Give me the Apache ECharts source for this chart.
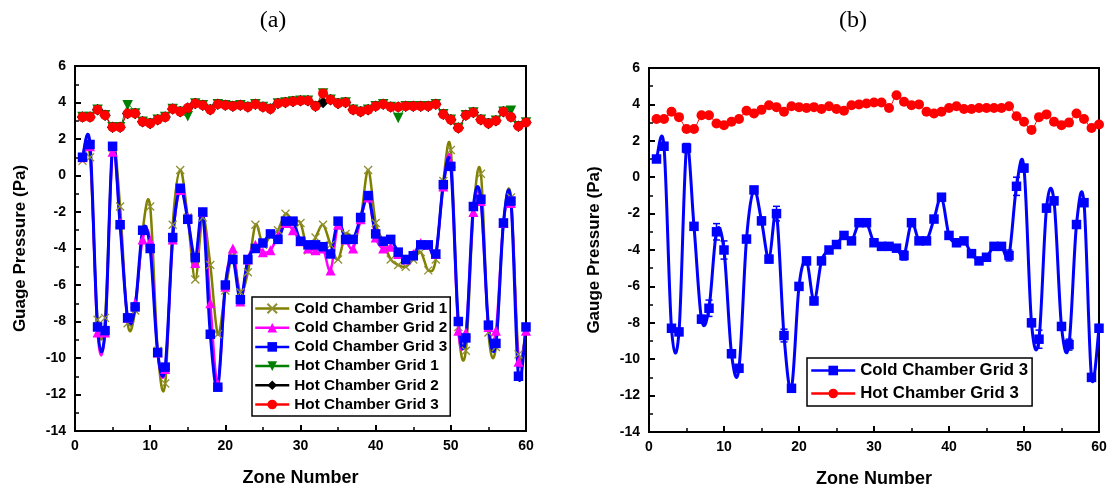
<!DOCTYPE html>
<html><head><meta charset="utf-8">
<script src="https://cdn.jsdelivr.net/npm/echarts@6/dist/echarts.min.js"></script>
<style>html,body{margin:0;padding:0;background:#fff}#c{width:1115px;height:496px}</style>
</head><body><div id="c"></div>
<script>
const zones = [1,2,3,4,5,6,7,8,9,10,11,12,13,14,15,16,17,18,19,20,21,22,23,24,25,26,27,28,29,30,
  31,32,33,34,35,36,37,38,39,40,41,42,43,44,45,46,47,48,49,50,51,52,53,54,55,56,57,58,59,60];
const coldGrid1 = [0.8,1.0,-7.9,-7.8,1.5,-1.7,-8.1,-7.4,-3.0,-1.7, -9.6,-11.4,-2.7,0.3,-2.3,-5.7,-2.3,-4.9,-8.7,-6.3,
  -4.4,-6.4,-5.3,-2.7,-3.8,-3.3,-3.0,-2.1,-2.5,-2.6, -4.1,-3.4,-2.7,-3.8,-4.6,-3.2,-3.4,-2.4,0.3,-2.6,
  -3.6,-4.6,-4.9,-5.0,-4.6,-4.2,-5.2,-4.6,-0.3,1.4, -8.3,-9.6,-2.0,0.1,-8.6,-9.4,-2.6,-1.2,-9.8,-8.5];
const coldGrid2 = [1.0,1.6,-8.6,-8.6,1.3,-2.6,-7.8,-7.0,-3.5,-3.6, -9.7,-10.6,-3.5,-0.8,-2.3,-4.8,-2.0,-7.0,-11.4,-6.1,
  -4.0,-6.9,-4.6,-3.8,-4.2,-4.1,-3.3,-2.6,-3.0,-3.6, -4.0,-4.1,-4.0,-5.2,-2.7,-3.5,-4.0,-2.4,-1.2,-3.4,
  -4.0,-3.9,-4.3,-4.6,-4.3,-3.7,-3.8,-4.3,-0.6,0.7, -8.5,-8.6,-2.0,-1.4,-8.3,-8.5,-2.6,-1.5,-10.2,-8.5];
const coldGrid3 = [1.0,1.7,-8.3,-8.5,1.6,-2.7,-7.8,-7.2,-3.0,-4.0, -9.7,-10.5,-3.4,-0.7,-2.4,-4.5,-2.0,-8.7,-11.6,-6.0,
  -4.6,-6.8,-4.6,-4.0,-3.7,-3.2,-3.5,-2.5,-2.5,-3.6, -3.8,-3.8,-3.9,-4.3,-2.5,-3.5,-3.5,-2.3,-1.1,-3.2,
  -3.6,-3.5,-4.2,-4.6,-4.4,-3.8,-3.8,-4.3,-0.5,0.5, -8.0,-8.9,-1.7,-1.3,-8.2,-9.2,-2.6,-1.4,-11.0,-8.3];
const coldGrid3Err = [0.15,0.2,0.15,0.15,0.25,0.15,0.2,0.45,0.45,0.5, 0.2,0.2,0.15,0.15,0.2,0.2,0.4,0.35,0.15,0.2,
  0.2,0.2,0.15,0.15,0.15,0.15,0.15,0.15,0.15,0.15, 0.15,0.15,0.15,0.25,0.15,0.15,0.15,0.15,0.15,0.2,
  0.2,0.15,0.15,0.15,0.15,0.15,0.15,0.3,0.5,0.2, 0.2,0.5,0.2,0.2,0.15,0.3,0.2,0.2,0.2,0.2];
const hotGrid1 = [3.2,3.2,3.6,3.3,2.65,2.65,3.85,3.4,2.95,2.85, 3.05,3.2,3.65,3.5,3.25,3.95,3.85,3.6,3.9,3.85,
  3.8,3.85,3.75,3.9,3.75,3.65,3.95,4.0,4.05,4.1, 4.1,3.8,4.5,4.15,3.95,4.0,3.6,3.5,3.6,3.8,
  3.9,3.75,3.15,3.8,3.8,3.8,3.8,3.9,3.35,3.05, 2.6,3.3,3.45,3.05,2.85,3.0,3.5,3.55,2.7,2.9];
const hotGrid2 = [3.2,3.2,3.6,3.3,2.65,2.65,3.4,3.4,2.95,2.85, 3.05,3.2,3.65,3.5,3.7,3.95,3.85,3.6,3.9,3.85,
  3.8,3.85,3.75,3.9,3.75,3.65,3.95,4.0,4.05,4.1, 4.1,3.8,4.0,4.15,3.95,4.0,3.6,3.5,3.6,3.8,
  3.9,3.75,3.75,3.8,3.8,3.8,3.8,3.9,3.35,3.05, 2.6,3.3,3.45,3.05,2.85,3.0,3.5,3.2,2.7,2.9];
const hotGrid3 = [3.2,3.2,3.6,3.3,2.65,2.65,3.4,3.4,2.95,2.85, 3.05,3.2,3.65,3.5,3.7,3.95,3.85,3.6,3.9,3.85,
  3.8,3.85,3.75,3.9,3.75,3.65,3.95,4.0,4.05,4.1, 4.1,3.8,4.5,4.15,3.95,4.0,3.6,3.5,3.6,3.8,
  3.9,3.75,3.75,3.8,3.8,3.8,3.8,3.9,3.35,3.05, 2.6,3.3,3.45,3.05,2.85,3.0,3.5,3.2,2.7,2.9];
const seriesNames = ['Cold Chamber Grid 1','Cold Chamber Grid 2','Cold Chamber Grid 3',
  'Hot Chamber Grid 1','Hot Chamber Grid 2','Hot Chamber Grid 3'];
const panelTitles = ['(a)','(b)'];
const yNames = ['Guage Pressure (Pa)','Gauge Pressure (Pa)'];
const xName = 'Zone Number';

const FONT = 'Liberation Sans, Arial, sans-serif';
const pair = arr => zones.map((z,i)=>[z, arr[i]]);

function xAxis(gi){
  return {gridIndex:gi, type:'value', min:0, max:60, interval:10, name:xName, nameLocation:'middle', nameGap:38,
    nameTextStyle:{fontFamily:FONT, fontWeight:'bold', fontSize:18, color:'#000'},
    axisLine:{onZero:false, lineStyle:{color:'#000', width:2}},
    axisTick:{inside:true, length:6, lineStyle:{color:'#000', width:2}},
    minorTick:{show:true, splitNumber:2, length:4, lineStyle:{color:'#000', width:1.5}},
    axisLabel:{fontFamily:FONT, fontWeight:'bold', fontSize:14, color:'#000', margin:8},
    splitLine:{show:false}};
}
function yAxis(gi){
  return {gridIndex:gi, type:'value', min:-14, max:6, interval:2, name:yNames[gi], nameLocation:'middle', nameGap:46,
    nameTextStyle:{fontFamily:FONT, fontWeight:'bold', fontSize:17, color:'#000'},
    axisLine:{onZero:false, lineStyle:{color:'#000', width:2}},
    axisTick:{inside:true, length:6, lineStyle:{color:'#000', width:2}},
    minorTick:{show:true, splitNumber:2, length:4, lineStyle:{color:'#000', width:1.5}},
    axisLabel:{fontFamily:FONT, fontWeight:'bold', fontSize:14, color:'#000', margin:9},
    splitLine:{show:false}};
}
const SYM = {
  cross:'path://M0,0L10,10M10,0L0,10',
  tri:'path://M5,0L10,9L0,9Z',
  triDown:'path://M0,0L10,0L5,9Z'
};
const COLORS = ['#808000','#ff00ff','#0000ff','#008000','#000000','#ff0000'];
const WIDTHS = [2.5,2.5,3,1,1,1];

// smooth curve through the points (Catmull-Rom), drawn with the axes' own coordinate mapping
function curve(arr, gi, color, lw){
  return {type:'custom', xAxisIndex:gi, yAxisIndex:gi, silent:true, animation:false, clip:true,
    data:pair(arr), encode:{x:0, y:1},
    renderItem(params, api){
      const i = params.dataIndex, n = zones.length;
      if (i >= n-1) return null;
      const P = k => { const kk = Math.max(0, Math.min(n-1, k)); return api.coord([zones[kk], arr[kk]]); };
      const p0 = P(i-1), p1 = P(i), p2 = P(i+1), p3 = P(i+2), t = 1/6;
      return {type:'bezierCurve', shape:{x1:p1[0], y1:p1[1], x2:p2[0], y2:p2[1],
        cpx1:p1[0]+(p2[0]-p0[0])*t, cpy1:p1[1]+(p2[1]-p0[1])*t,
        cpx2:p2[0]-(p3[0]-p1[0])*t, cpy2:p2[1]-(p3[1]-p1[1])*t},
        style:{stroke:color, lineWidth:lw, fill:null}};
    }};
}
function marks(k, arr, gi, symbol, size, itemExtra){
  const color = COLORS[k];
  return {name:seriesNames[k], type:'line', xAxisIndex:gi, yAxisIndex:gi, data:pair(arr),
    symbol, symbolSize:size, showAllSymbol:true,
    lineStyle:{color, width:WIDTHS[k], opacity:0},
    itemStyle:Object.assign({color, borderColor:color, borderWidth:0}, itemExtra||{}),
    emphasis:{disabled:true}, animation:false};
}
function errorBars(arr, err, gi, color){
  return {type:'custom', xAxisIndex:gi, yAxisIndex:gi, silent:true, animation:false,
    data: zones.map((z,i)=>[z, arr[i]-err[i], arr[i]+err[i]]),
    encode:{x:0, y:[1,2]},
    renderItem(params, api){
      const x = api.value(0);
      const lo = api.coord([x, api.value(1)]), hi = api.coord([x, api.value(2)]);
      const w = 3.5, st = {stroke:color, lineWidth:1.5};
      return {type:'group', children:[
        {type:'line', shape:{x1:lo[0], y1:lo[1], x2:hi[0], y2:hi[1]}, style:st},
        {type:'line', shape:{x1:lo[0]-w, y1:lo[1], x2:lo[0]+w, y2:lo[1]}, style:st},
        {type:'line', shape:{x1:hi[0]-w, y1:hi[1], x2:hi[0]+w, y2:hi[1]}, style:st}
      ]};
    }};
}
const crossStyle = {borderColor:'#8f8f30', borderWidth:1.3};
const series = [
  curve(coldGrid1, 0, COLORS[0], WIDTHS[0]), marks(0, coldGrid1, 0, SYM.cross, 8, crossStyle),
  curve(coldGrid2, 0, COLORS[1], WIDTHS[1]), marks(1, coldGrid2, 0, SYM.tri, 10),
  curve(coldGrid3, 0, COLORS[2], WIDTHS[2]), marks(2, coldGrid3, 0, 'rect', 9.5),
  curve(hotGrid1, 0, COLORS[3], WIDTHS[3]), marks(3, hotGrid1, 0, SYM.triDown, 10.5),
  curve(hotGrid2, 0, COLORS[4], WIDTHS[4]), marks(4, hotGrid2, 0, 'diamond', 11.5),
  curve(hotGrid3, 0, COLORS[5], WIDTHS[5]), marks(5, hotGrid3, 0, 'circle', 10),
  curve(coldGrid3, 1, COLORS[2], WIDTHS[2]), errorBars(coldGrid3, coldGrid3Err, 1, COLORS[2]),
  marks(2, coldGrid3, 1, 'rect', 9.5),
  curve(hotGrid3, 1, COLORS[5], WIDTHS[5]), marks(5, hotGrid3, 1, 'circle', 10)
];
const legendItem = k => ({name:seriesNames[k], lineStyle:{color:COLORS[k], width:2.5, opacity:1}});

const chart = echarts.init(document.getElementById('c'), null, {renderer:'canvas'});
chart.setOption({
  backgroundColor:'#fff',
  animation:false,
  title:[
    {text:panelTitles[0], left:268, top:4, textAlign:'center', textStyle:{fontFamily:'Liberation Serif, Times New Roman, serif', fontWeight:'normal', fontSize:24, color:'#000'}},
    {text:panelTitles[1], left:848, top:4, textAlign:'center', textStyle:{fontFamily:'Liberation Serif, Times New Roman, serif', fontWeight:'normal', fontSize:24, color:'#000'}}
  ],
  grid:[
    {left:75, top:66, width:451, height:365, show:true, borderColor:'#000', borderWidth:2, backgroundColor:'transparent'},
    {left:649, top:68, width:450, height:364, show:true, borderColor:'#000', borderWidth:2, backgroundColor:'transparent'}
  ],
  xAxis:[xAxis(0), xAxis(1)],
  yAxis:[yAxis(0), yAxis(1)],
  legend:[
    {data:[0,1,2,3,4,5].map(legendItem), orient:'vertical', left:252, top:297, itemWidth:34, itemHeight:12, itemGap:4.2,
      padding:[4,3,4,2], borderColor:'#000', borderWidth:1.5, backgroundColor:'#fff',
      textStyle:{fontFamily:FONT, fontWeight:'bold', fontSize:15.3, color:'#000'}, selectedMode:false},
    {data:[2,5].map(legendItem), orient:'vertical', left:807, top:358, itemWidth:44, itemHeight:12, itemGap:6,
      padding:[4,4,4,3], borderColor:'#000', borderWidth:1.5, backgroundColor:'#fff',
      textStyle:{fontFamily:FONT, fontWeight:'bold', fontSize:16.8, color:'#000'}, selectedMode:false}
  ],
  series
});
</script>
</body></html>
